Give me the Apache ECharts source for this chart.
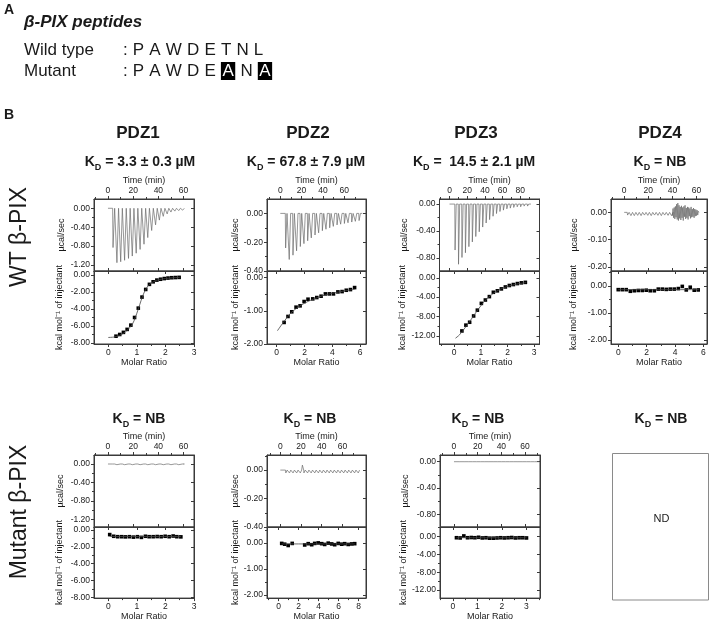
<!DOCTYPE html>
<html><head><meta charset="utf-8">
<script src="https://cdn.jsdelivr.net/npm/echarts@6/dist/echarts.min.js"></script>
<style>html,body{margin:0;padding:0;background:#fff}#c{width:713px;height:622px}</style>
</head><body><div id="c"></div>
<script>
// ---------- Panel A ----------
const peptideNames = ['Wild type', 'Mutant'];
const wtSeq = ['P','A','W','D','E','T','N','L'];
const mutSeq = ['P','A','W','D','E','A','N','A'];
const mutatedIdx = [5, 7];

// ---------- Panel B texts ----------
const domains = ['PDZ1','PDZ2','PDZ3','PDZ4'];
const wtKd = ['3.3 ± 0.3 µM', '67.8 ± 7.9 µM', ' 14.5 ± 2.1 µM', 'NB'];
const mutKd = ['NB','NB','NB','NB'];
const rowNames = ['WT β-PIX', 'Mutant β-PIX'];

// ---------- tick labels ----------
const timeTicks60 = [0,20,40,60];
const timeTicks80 = [0,20,40,60,80];
const ratioTicks3 = [0,1,2,3];
const ratioTicks6 = [0,2,4,6];
const ratioTicks8 = [0,2,4,6,8];
const powerTicks1 = [0,-0.4,-0.8,-1.2];
const powerTicks2 = [0,-0.2,-0.4];
const powerTicks3 = [0,-0.4,-0.8];
const powerTicks4 = [0,-0.1,-0.2];
const heatTicks1 = [0,-2,-4,-6,-8];
const heatTicks2 = [0,-1,-2];
const heatTicks3 = [0,-4,-8,-12];
const heatTicks4 = [0,-1,-2];

// ---------- WT PDZ1 ----------
const wt1Span = [0, 60];
const wt1InjTime = [3.7,6.8,9.8,12.9,16.0,19.0,22.1,25.2,28.3,31.3,34.4,37.5,40.5,43.6,46.7,49.7,52.8,55.9,59.0];
const wt1InjPeak = [-0.83,-1.15,-1.13,-1.10,-1.06,-1.01,-0.95,-0.87,-0.76,-0.62,-0.47,-0.35,-0.25,-0.17,-0.12,-0.08,-0.06,-0.05,-0.04];
const wt1Ratio = [0.27,0.40,0.53,0.66,0.79,0.92,1.05,1.18,1.31,1.44,1.57,1.70,1.83,1.96,2.09,2.22,2.35,2.48];
const wt1Heat = [-7.2,-7.0,-6.75,-6.4,-5.9,-5.0,-3.9,-2.6,-1.7,-1.1,-0.8,-0.6,-0.5,-0.42,-0.36,-0.32,-0.3,-0.28];
const wt1FitX = [0,0.2,0.4,0.6,0.8,0.9,1.0,1.1,1.2,1.3,1.4,1.5,1.7,1.9,2.1,2.3,2.5];
const wt1FitY = [-7.35,-7.3,-7.1,-6.7,-6.0,-5.4,-4.5,-3.5,-2.5,-1.75,-1.25,-0.95,-0.62,-0.47,-0.38,-0.32,-0.28];

// ---------- WT PDZ2 ----------
const wt2Span = [0, 77];
const wt2InjTime = [4.7,8.1,11.6,15.0,18.5,21.9,25.4,28.8,32.3,35.7,39.2,42.6,46.1,49.5,53.0,56.4,59.9,63.3,66.8,70.2,73.7];
const wt2InjPeak = [-0.24,-0.32,-0.29,-0.26,-0.23,-0.21,-0.19,-0.17,-0.15,-0.135,-0.12,-0.11,-0.1,-0.09,-0.08,-0.075,-0.07,-0.065,-0.06,-0.055,-0.05];
const wt2Ratio = [0.53,0.81,1.08,1.39,1.68,1.97,2.25,2.59,2.88,3.19,3.5,3.79,4.08,4.4,4.7,5.0,5.3,5.6];
const wt2Heat = [-1.35,-1.17,-1.03,-0.89,-0.85,-0.72,-0.65,-0.64,-0.6,-0.56,-0.49,-0.49,-0.49,-0.43,-0.42,-0.38,-0.36,-0.3];
const wt2FitX = [0.05,0.3,0.6,1.0,1.5,2.0,2.5,3.0,3.5,4.0,4.5,5.0,5.6];
const wt2FitY = [-1.6,-1.45,-1.28,-1.07,-0.9,-0.77,-0.67,-0.59,-0.52,-0.47,-0.43,-0.39,-0.35];

// ---------- WT PDZ3 ----------
const wt3Span = [0, 92];
const wt3InjTime = [6,9.9,13.8,17.7,21.6,25.5,29.4,33.3,37.2,41.1,45,48.9,52.8,56.7,60.6,64.5,68.4,72.3,76.2,80.1,84,87.9];
const wt3InjPeak = [-0.68,-0.89,-0.79,-0.72,-0.63,-0.56,-0.48,-0.41,-0.34,-0.28,-0.23,-0.18,-0.14,-0.11,-0.09,-0.07,-0.06,-0.05,-0.04,-0.04,-0.03,-0.03];
const wt3Ratio = [0.29,0.44,0.58,0.73,0.87,1.02,1.17,1.32,1.47,1.62,1.77,1.92,2.07,2.22,2.37,2.52,2.67];
const wt3Heat = [-11.0,-9.8,-9.2,-7.9,-6.7,-5.3,-4.6,-3.9,-3.0,-2.7,-2.3,-1.9,-1.6,-1.4,-1.2,-1.05,-0.95];
const wt3FitX = [0.05,0.2,0.4,0.6,0.8,1.0,1.2,1.4,1.6,1.8,2.0,2.2,2.4,2.7];
const wt3FitY = [-12.5,-11.8,-10.4,-8.9,-7.3,-5.8,-4.5,-3.5,-2.75,-2.2,-1.8,-1.5,-1.25,-1.0];

// ---------- WT PDZ4 ----------
const wt4Span = [0, 62.5];
const wt4InjTime = [2.5,5.3,8.1,10.9,13.7,16.5,19.3,22.1,24.9,27.7,30.5,33.3,36.1,38.9];
const wt4InjPeak = [-0.010,-0.012,-0.012,-0.011,-0.012,-0.010,-0.011,-0.012,-0.010,-0.011,-0.012,-0.010,-0.011,-0.012];
const wt4NoiseTime = [39.5,40,40.5,41,41.5,42,42.5,43,43.5,44,44.5,45,45.5,46,46.5,47,47.5,48,48.5,49,49.5,50,50.5,51,51.5,52,52.5,53,53.5,54,54.5,55,55.5,56,56.5,57,57.5,58,58.5,59,59.5,60,60.5,61,61.5,62];
const wt4NoiseVal = [0.004,-0.012,0.014,-0.02,0.018,-0.024,0.022,-0.018,0.03,-0.026,0.034,-0.03,0.026,-0.022,0.02,-0.028,0.024,-0.02,0.018,-0.03,0.022,-0.016,0.026,-0.024,0.016,-0.02,0.02,-0.026,0.018,-0.014,0.014,-0.022,0.02,-0.018,0.012,-0.016,0.016,-0.02,0.012,-0.014,0.01,-0.012,0.008,-0.01,0.004,0];
const wt4Ratio = [0,0.28,0.56,0.85,1.13,1.41,1.69,1.97,2.25,2.54,2.82,3.1,3.38,3.66,3.94,4.23,4.51,4.79,5.07,5.35,5.63];
const wt4Heat = [-0.14,-0.14,-0.14,-0.2,-0.18,-0.17,-0.17,-0.16,-0.18,-0.18,-0.12,-0.12,-0.13,-0.12,-0.12,-0.1,-0.02,-0.15,-0.05,-0.16,-0.15];
const wt4FitX = [0, 5.7];
const wt4FitY = [-0.14, -0.14];

// ---------- Mutant PDZ1 ----------
const m1Span = [0, 60];
const m1InjTime = [3.7,6.8,9.8,12.9,16.0,19.0,22.1,25.2,28.3,31.3,34.4,37.5,40.5,43.6,46.7,49.7,52.8,55.9,59.0];
const m1InjPeak = [-0.015,-0.015,-0.015,-0.015,-0.015,-0.015,-0.015,-0.015,-0.015,-0.015,-0.015,-0.015,-0.015,-0.015,-0.015,-0.015,-0.015,-0.015,-0.015];
const m1Ratio = [0.05,0.19,0.33,0.47,0.6,0.74,0.88,1.02,1.16,1.3,1.43,1.57,1.71,1.85,1.99,2.13,2.27,2.4,2.54];
const m1Heat = [-0.55,-0.75,-0.8,-0.8,-0.82,-0.8,-0.85,-0.8,-0.88,-0.75,-0.8,-0.8,-0.78,-0.8,-0.75,-0.8,-0.72,-0.8,-0.82];
const m1FitX = [0.05, 2.54];
const m1FitY = [-0.78, -0.78];

// ---------- Mutant PDZ2 ----------
const m2Span = [0, 77];
const m2InjTime = [5,8.5,12,15.5,19,21,22.5,26,29.5,33,36.5,40,43.5,47,50.5,54,57.5,61,64.5,68,71.5,75];
const m2InjPeak = [-0.02,-0.02,-0.02,-0.02,-0.02,0.035,-0.02,-0.02,-0.02,-0.02,-0.02,-0.02,-0.02,-0.02,-0.02,-0.02,-0.02,-0.02,-0.02,-0.02,-0.02,-0.02];
const m2Ratio = [0.3,0.6,0.95,1.35,2.6,2.95,3.3,3.6,3.95,4.3,4.6,4.95,5.3,5.6,5.95,6.3,6.6,6.95,7.3,7.6];
const m2Heat = [-0.02,-0.05,-0.1,-0.02,-0.08,-0.03,-0.07,-0.02,0.0,-0.03,-0.06,-0.01,-0.04,-0.07,-0.02,-0.05,-0.03,-0.06,-0.04,-0.03];
const m2FitX = [0.3, 7.6];
const m2FitY = [-0.04, -0.04];

// ---------- Mutant PDZ3 ----------
const m3Span = [0, 72];
const m3InjTime = [5,8.5,12,15.5,19,22.5,26,29.5,33,36.5,40,43.5,47,50.5,54,57.5,61,64.5,68];
const m3InjPeak = [-0.03,-0.03,-0.03,-0.03,-0.03,-0.03,-0.03,-0.03,-0.03,-0.03,-0.03,-0.03,-0.03,-0.03,-0.03,-0.03,-0.03,-0.03,-0.03];
const m3Ratio = [0.15,0.3,0.45,0.6,0.75,0.9,1.05,1.2,1.35,1.5,1.65,1.8,1.95,2.1,2.25,2.4,2.55,2.7,2.85,3.0];
const m3Heat = [-0.3,-0.35,0.1,-0.3,-0.25,-0.3,-0.2,-0.35,-0.3,-0.4,-0.4,-0.35,-0.3,-0.35,-0.3,-0.25,-0.35,-0.3,-0.3,-0.35];
const m3FitX = [0.15, 3.0];
const m3FitY = [-0.3, -0.3];

// ================= build =================
const FONT = '"Liberation Sans", Arial, Helvetica, sans-serif';
const FRAME = '#3a3a3a';
const TXT = '#1a1a1a';

function pairs(xs, ys){ const n=Math.min(xs.length, ys.length); const d=[]; for(let i=0;i<n;i++) d.push([xs[i], ys[i]]); return d; }
function trace(span, times, peaks, noiseT, noiseV){
  const d = [[span[0], 0]];
  for (let i=0;i<times.length;i++){ const t=times[i], p=peaks[i]; d.push([t,0],[t+0.3,p],[t+1.6,0]); }
  if (noiseT) pairs(noiseT, noiseV).forEach(q=>d.push(q));
  d.push([span[1], 0]);
  return d;
}
// minor ticks halfway between the major ticks (and one step beyond each end), kept inside the range
function minors(ticks, range){
  const out = [];
  const step = ticks[1]-ticks[0];
  const all = [ticks[0]-step/2].concat(ticks.map(t=>t+step/2));
  all.forEach(v=>{ if (v>Math.min(range[0],range[1]) && v<Math.max(range[0],range[1])) out.push(v); });
  return out;
}

const panels = [
  {left:94, w:100, top:199, mid:271, bot:344, time:[-11.1,68.3], tT:timeTicks60, pw:[-1.326,0.196], pT:powerTicks1, ratio:[-0.5,3.0], rT:ratioTicks3, heat:[-8.12,0.47], hT:heatTicks1,
   thermo:trace(wt1Span,wt1InjTime,wt1InjPeak), pts:pairs(wt1Ratio,wt1Heat), fit:pairs(wt1FitX,wt1FitY), gP:28, gH:29.5},
  {left:267, w:99, top:199, mid:271, bot:344, time:[-12.5,80.5], tT:timeTicks60, pw:[-0.4,0.1], pT:powerTicks2, ratio:[-0.7,6.42], rT:ratioTicks6, heat:[-2.0,0.2], hT:heatTicks2,
   thermo:trace(wt2Span,wt2InjTime,wt2InjPeak), pts:pairs(wt2Ratio,wt2Heat), fit:pairs(wt2FitX,wt2FitY), gP:19, gH:24},
  {left:439.5, w:100, top:199, mid:271, bot:344, time:[-11.3,101.7], tT:timeTicks80, pw:[-0.99,0.075], pT:powerTicks3, ratio:[-0.55,3.2], rT:ratioTicks3, heat:[-13.7,1.4], hT:heatTicks3,
   thermo:trace(wt3Span,wt3InjTime,wt3InjPeak), pts:pairs(wt3Ratio,wt3Heat), fit:pairs(wt3FitX,wt3FitY), gP:30, gH:32},
  {left:611, w:96, top:199, mid:271, bot:344, time:[-10.95,68.7], tT:timeTicks60, pw:[-0.215,0.049], pT:powerTicks4, ratio:[-0.51,6.25], rT:ratioTicks6, heat:[-2.15,0.55], hT:heatTicks4,
   thermo:trace(wt4Span,wt4InjTime,wt4InjPeak,wt4NoiseTime,wt4NoiseVal), pts:pairs(wt4Ratio,wt4Heat), fit:pairs(wt4FitX,wt4FitY), gP:31.5, gH:33},
  {left:94, w:100, top:455, mid:527, bot:600, time:[-11.1,68.3], tT:timeTicks60, pw:[-1.37,0.196], pT:powerTicks1, ratio:[-0.5,3.0], rT:ratioTicks3, heat:[-8.08,0.35], hT:heatTicks1,
   thermo:trace(m1Span,m1InjTime,m1InjPeak), pts:pairs(m1Ratio,m1Heat), fit:pairs(m1FitX,m1FitY), gP:29, gH:29.5},
  {left:267, w:99, top:455, mid:527, bot:600, time:[-12.9,82.8], tT:timeTicks60, pw:[-0.4,0.106], pT:powerTicks2, ratio:[-1.17,8.73], rT:ratioTicks8, heat:[-2.12,0.61], hT:heatTicks2,
   thermo:trace(m2Span,m2InjTime,m2InjPeak), pts:pairs(m2Ratio,m2Heat), fit:pairs(m2FitX,m2FitY), gP:19.5, gH:25.5},
  {left:440, w:100, top:455, mid:527, bot:600, time:[-11.8,72.6], tT:timeTicks60, pw:[-0.993,0.102], pT:powerTicks3, ratio:[-0.52,3.55], rT:ratioTicks3, heat:[-13.8,2.1], hT:heatTicks3,
   thermo:trace(m3Span,m3InjTime,m3InjPeak), pts:pairs(m3Ratio,m3Heat), fit:pairs(m3FitX,m3FitY), gP:29.5, gH:32}
];

const option = {backgroundColor:'#fff', animation:false, grid:[], xAxis:[], yAxis:[], series:[], graphic:[]};
const f2 = v => v.toFixed(2);
const fi = v => String(v);

function axis(gi, pos, range, ticks, fmt, labelShow, inside, name, gap, len, lineShow){
  const a = {
    type:'value', gridIndex:gi, position:pos, min:range[0], max:range[1],
    axisLine:{show:lineShow!==false, onZero:false, lineStyle:{color:FRAME, width:1}},
    axisTick:{show:true, inside:inside, length:len||3, customValues:ticks, lineStyle:{color:FRAME, width:1}},
    axisLabel:{show:labelShow, customValues:ticks, formatter:fmt, fontSize:8.5, color:TXT, margin:4, fontFamily:FONT},
    splitLine:{show:false}
  };
  if (name){ a.name=name; a.nameLocation='middle'; a.nameGap=gap; a.nameTextStyle={fontSize:9, color:TXT, fontFamily:FONT}; }
  return a;
}

function addBlock(p, top, height, xr, xt, xPos, xName, yr, yt, yName, yGap){
  option.grid.push({left:p.left, top:top, width:p.w, height:height, show:true, borderColor:FRAME, borderWidth:1});
  const g = option.grid.length-1;
  const xi = option.xAxis.length, yi = option.yAxis.length;
  const xOpp = xPos==='top' ? 'bottom' : 'top';
  option.xAxis.push(axis(g, xPos, xr, xt, fi, true, false, xName, 13.5));
  option.xAxis.push(axis(g, xOpp, xr, xt, fi, false, true));
  option.xAxis.push(axis(g, xPos, xr, minors(xt, xr), fi, false, false, null, 0, 2, false));
  option.yAxis.push(axis(g, 'left', yr, yt, f2, true, false, yName, yGap));
  option.yAxis.push(axis(g, 'right', yr, yt, f2, false, true));
  option.yAxis.push(axis(g, 'left', yr, minors(yt, yr), f2, false, false, null, 0, 2, false));
  return [xi, yi];
}

panels.forEach(p=>{
  const [xi, yi] = addBlock(p, p.top, p.mid-p.top, p.time, p.tT, 'top', 'Time (min)', p.pw, p.pT, 'µcal/sec', p.gP);
  option.series.push({type:'line', xAxisIndex:xi, yAxisIndex:yi, data:p.thermo, symbol:'none', lineStyle:{color:'#6a6a6a', width:0.7}, silent:true});
  const [xj, yj] = addBlock(p, p.mid, p.bot-p.mid, p.ratio, p.rT, 'bottom', 'Molar Ratio', p.heat, p.hT, 'kcal mol⁻¹ of injectant', p.gH);
  option.series.push({type:'line', xAxisIndex:xj, yAxisIndex:yj, data:p.fit, symbol:'none', smooth:0.3, lineStyle:{color:'#444', width:0.8}, silent:true});
  option.series.push({type:'scatter', xAxisIndex:xj, yAxisIndex:yj, data:p.pts, symbol:'rect', symbolSize:3.6, itemStyle:{color:'#000', opacity:1}, silent:true});
});

// ---------- graphics ----------
const G = option.graphic;
function text(x,y,t,size,extra){
  G.push(Object.assign({type:'text', x:x, y:y, silent:true,
    style:Object.assign({text:t, fill:TXT, fontSize:size, fontFamily:FONT, align:'left', verticalAlign:'middle'}, (extra&&extra.style)||{})},
    (extra&&extra.el)||{}));
}
text(4, 10, 'A', 14, {style:{fontWeight:'bold'}});
text(24, 22, 'β-PIX peptides', 17, {style:{fontWeight:'bold', fontStyle:'italic'}});
text(24, 50, peptideNames[0], 17);
text(24, 71, peptideNames[1], 17);
const seqRich = {
  n:{fontSize:17, fontFamily:FONT, fill:TXT},
  s:{fontSize:18.5, fontFamily:FONT, fill:TXT},
  h:{fontSize:17, fontFamily:FONT, fill:'#fff', backgroundColor:'#000', padding:[1,1.5,0,1.5]}
};
text(123, 50, '{n|:}{s| }' + wtSeq.map(c=>'{n|'+c+'}').join('{s| }'), 17, {style:{rich:seqRich}});
text(123, 71, '{n|:}{s| }' + mutSeq.map((c,i)=> mutatedIdx.indexOf(i)>=0 ? '{h|'+c+'}' : '{n|'+c+'}').join('{s| }'), 17, {style:{rich:seqRich}});
text(4, 115, 'B', 14, {style:{fontWeight:'bold'}});

const titleX = [138, 308, 476, 660];
const kdWtX = [140, 306, 474, 660];
const kdMutX = [139, 310, 478, 661];
const kdRich = {k:{fontSize:14, fontWeight:'bold', fontFamily:FONT, fill:TXT, lineHeight:20}, d:{fontSize:9, fontWeight:'bold', fontFamily:FONT, fill:TXT, verticalAlign:'bottom', lineHeight:20}};
domains.forEach((d,i)=>{
  text(titleX[i], 133, d, 17, {style:{fontWeight:'bold', align:'center'}});
  text(kdWtX[i], 162, '{k|K}{d|D}{k| = ' + wtKd[i] + '}', 14, {style:{align:'center', rich:kdRich}});
  text(kdMutX[i], 419, '{k|K}{d|D}{k| = ' + mutKd[i] + '}', 14, {style:{align:'center', rich:kdRich}});
});
text(20, 237, rowNames[0], 23, {style:{align:'center'}, el:{rotation:Math.PI/2}});
text(20, 512, rowNames[1], 23, {style:{align:'center'}, el:{rotation:Math.PI/2}});

// ND box for mutant PDZ4
G.push({type:'rect', shape:{x:612.5, y:453.5, width:96, height:146.5}, style:{fill:'none', stroke:'#8a8a8a', lineWidth:1}, silent:true});
text(661.5, 519, 'ND', 11, {style:{align:'center'}});

const chart = echarts.init(document.getElementById('c'), null, {renderer:'canvas'});
chart.setOption(option);
</script>
</body></html>
